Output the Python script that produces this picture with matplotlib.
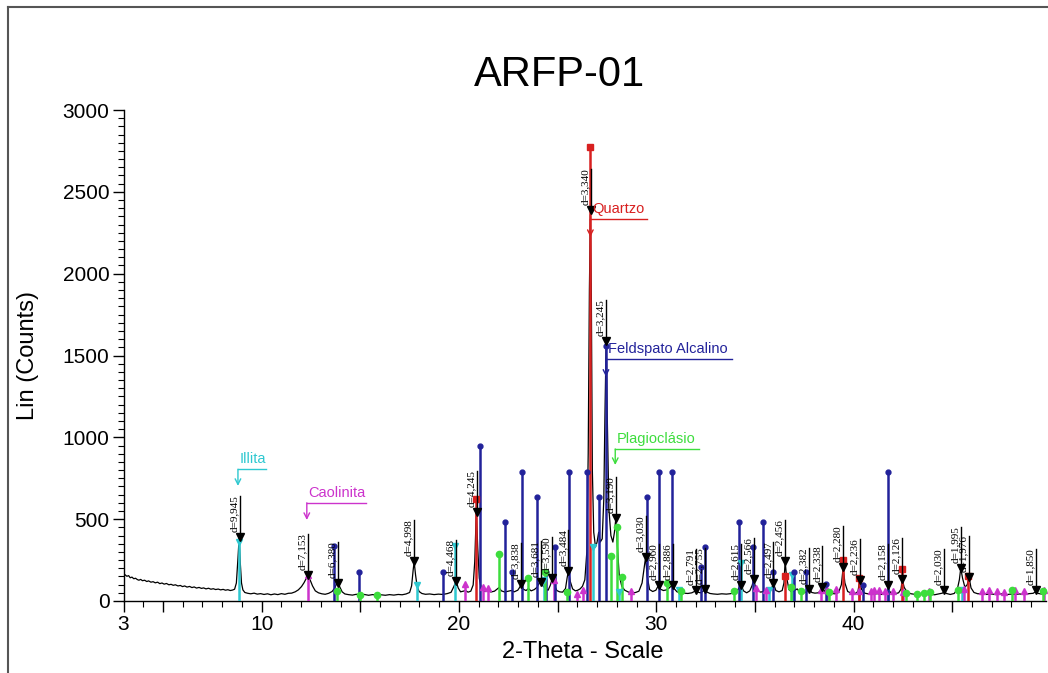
import matplotlib
matplotlib.use('Agg')
import matplotlib.pyplot as plt
from matplotlib.lines import Line2D
from matplotlib.transforms import offset_copy

plt.rcParams['font.family'] = ['Liberation Sans', 'DejaVu Sans']

# ---------------- data ----------------
title = "ARFP-01"
x_label = "2-Theta - Scale"
y_label = "Lin (Counts)"
x_ticks = [3, 5, 10, 15, 20, 25, 30, 35, 40, 45]
x_ticklabels = ["3", "", "10", "", "20", "", "30", "", "40", ""]
y_ticks = [0, 500, 1000, 1500, 2000, 2500, 3000]

pattern_2theta = [
    3.00, 3.08, 3.17, 3.26, 3.34, 3.43, 3.52, 3.61, 3.70, 3.78, 3.87, 3.96, 4.07, 4.18, 4.27, 4.39,
    4.50, 4.61, 4.73, 4.84, 4.95, 5.06, 5.18, 5.30, 5.41, 5.52, 5.63, 5.76, 5.88, 5.99, 6.10, 6.22,
    6.35, 6.47, 6.58, 6.70, 6.83, 6.95, 7.06, 7.18, 7.31, 7.43, 7.55, 7.67, 7.80, 7.92, 8.05, 8.17,
    8.29, 8.41, 8.53, 8.63, 8.72, 8.80, 8.86, 8.92, 8.98, 9.05, 9.15, 9.30, 9.45, 9.62, 9.78, 9.95,
    10.12, 10.30, 10.47, 10.65, 10.82, 11.00, 11.18, 11.35, 11.52, 11.70, 11.86, 12.02, 12.15, 12.27,
    12.36, 12.46, 12.58, 12.72, 12.88, 13.05, 13.22, 13.40, 13.57, 13.70, 13.80, 13.87, 13.96, 14.08,
    14.22, 14.40, 14.60, 14.80, 15.00, 15.20, 15.42, 15.62, 15.84, 16.05, 16.27, 16.48, 16.70, 16.92,
    17.12, 17.32, 17.50, 17.60, 17.68, 17.73, 17.80, 17.88, 17.98, 18.12, 18.30, 18.52, 18.74, 18.96,
    19.18, 19.40, 19.60, 19.74, 19.86, 19.96, 20.08, 20.22, 20.33, 20.46, 20.60, 20.72, 20.80, 20.88,
    20.95, 21.03, 21.12, 21.22, 21.35, 21.47, 21.62, 21.80, 21.95, 22.03, 22.15, 22.32, 22.50, 22.65,
    22.80, 22.98, 23.08, 23.16, 23.26, 23.40, 23.52, 23.66, 23.82, 23.96, 24.06, 24.16, 24.26, 24.38,
    24.52, 24.63, 24.73, 24.84, 24.96, 25.10, 25.25, 25.40, 25.48, 25.55, 25.64, 25.76, 25.90, 26.02,
    26.14, 26.26, 26.38, 26.48, 26.55, 26.61, 26.66, 26.71, 26.76, 26.83, 26.92, 27.00, 27.08, 27.16,
    27.26, 27.34, 27.40, 27.46, 27.52, 27.60, 27.70, 27.80, 27.88, 27.95, 28.03, 28.12, 28.25, 28.40,
    28.58, 28.76, 28.95, 29.12, 29.28, 29.38, 29.46, 29.54, 29.66, 29.82, 29.98, 30.06, 30.12, 30.22,
    30.36, 30.52, 30.66, 30.76, 30.83, 30.92, 31.05, 31.22, 31.40, 31.60, 31.80, 31.93, 32.01, 32.10,
    32.24, 32.38, 32.48, 32.58, 32.72, 32.90, 33.10, 33.32, 33.55, 33.78, 33.98, 34.14, 34.29, 34.42,
    34.58, 34.74, 34.86, 34.93, 35.02, 35.14, 35.30, 35.48, 35.64, 35.80, 35.94, 36.06, 36.22, 36.38,
    36.47, 36.53, 36.60, 36.72, 36.86, 37.00, 37.14, 37.28, 37.44, 37.62, 37.75, 37.88, 38.04, 38.20,
    38.32, 38.42, 38.54, 38.70, 38.88, 39.06, 39.24, 39.38, 39.47, 39.56, 39.70, 39.88, 40.06, 40.22,
    40.31, 40.40, 40.56, 40.76, 40.98, 41.20, 41.42, 41.62, 41.76, 41.90, 42.08, 42.28, 42.40, 42.47,
    42.56, 42.72, 42.92, 43.14, 43.38, 43.62, 43.86, 44.10, 44.34, 44.50, 44.58, 44.70, 44.90, 45.10,
    45.26, 45.36, 45.43, 45.52, 45.64, 45.76, 45.85, 45.95, 46.10, 46.30, 46.52, 46.74, 46.98, 47.22,
    47.46, 47.70, 47.94, 48.18, 48.42, 48.66, 48.90, 49.10, 49.23, 49.36, 49.55, 49.75,
]
pattern_counts = [
    168, 160, 151, 155, 142, 146, 136, 139, 131, 127, 132, 124, 127, 119, 123, 115,
    118, 111, 115, 106, 110, 103, 107, 99, 102, 96, 99, 92, 95, 88, 92, 85,
    89, 82, 86, 79, 83, 77, 80, 74, 78, 72, 75, 70, 73, 68, 71, 66,
    69, 64, 67, 72, 110, 260, 385, 230, 110, 68, 52, 47, 44, 48, 42, 45,
    40, 44, 38, 43, 39, 45, 41, 47, 48, 56, 68, 88, 112, 140,
    150, 128, 92, 62, 50, 44, 41, 47, 58, 78, 105, 116, 86, 56,
    43, 39, 36, 41, 37, 40, 35, 39, 36, 38, 35, 39, 36, 40,
    38, 43, 52, 92, 190, 240, 160, 90, 58, 46, 41, 43, 39, 42,
    40, 45, 53, 88, 122, 80, 56, 60, 64, 54, 60, 98, 240, 548,
    330, 140, 80, 64, 58, 62, 55, 60, 74, 82, 62, 55, 60, 64,
    56, 66, 84, 104, 72, 64, 76, 62, 70, 84, 108, 124, 92, 74,
    66, 96, 138, 98, 64, 56, 54, 76, 140, 186, 120, 74, 62, 66,
    74, 90, 130, 300, 900, 1900, 2360, 1850, 800, 420, 330, 360, 420, 360,
    380, 620, 1150, 1590, 1100, 560, 400, 360, 420, 505, 330, 160, 90, 66,
    55, 50, 52, 60, 110, 200, 268, 150, 70, 58, 66, 84, 98, 72,
    64, 68, 80, 92, 98, 74, 56, 52, 48, 46, 50, 58, 66, 54,
    50, 60, 74, 54, 46, 43, 41, 44, 42, 45, 52, 70, 100, 62,
    50, 62, 96, 132, 90, 62, 54, 62, 56, 66, 106, 64, 56, 64,
    110, 244, 150, 70, 55, 64, 74, 52, 50, 56, 74, 52, 48, 50,
    62, 82, 58, 48, 46, 44, 52, 100, 204, 110, 58, 48, 44, 58,
    126, 72, 48, 43, 41, 45, 40, 48, 70, 48, 44, 50, 72, 132,
    84, 52, 44, 40, 43, 39, 42, 38, 44, 48, 56, 46, 40, 46,
    74, 130, 200, 140, 84, 100, 146, 80, 52, 44, 46, 40, 43, 39,
    44, 38, 42, 40, 43, 39, 45, 47, 58, 46, 42, 45,
]

# peak labels (d-spacings) with the peak positions and heights
peak_2theta = [8.886, 12.365, 13.87, 17.73, 19.86, 20.91, 23.16, 24.16, 24.73, 25.55,
               26.67, 27.46, 27.95, 29.46, 30.12, 30.83, 32.01, 32.48, 34.29, 34.93,
               35.94, 36.53, 37.75, 38.42, 39.47, 40.31, 41.76, 42.47, 44.58, 45.43,
               45.85, 49.23]
peak_counts = [390, 159, 112, 245, 124, 546, 104, 118, 140, 185,
               2390, 1590, 507, 271, 98, 98, 67, 75, 100, 135,
               108, 246, 72, 85, 206, 128, 98, 134, 70, 201,
               147, 70]
peak_labels = ["d=9,945", "d=7,153", "d=6,380", "d=4,998", "d=4,468", "d=4,245", "d=3,838",
               "d=3,681", "d=3,590", "d=3,484", "d=3,340", "d=3,245", "d=3,190", "d=3,030",
               "d=2,960", "d=2,886", "d=2,791", "d=2,755", "d=2,615", "d=2,566", "d=2,497",
               "d=2,456", "d=2,382", "d=2,338", "d=2,280", "d=2,236", "d=2,158", "d=2,126",
               "d=2,030", "d=1,995", "d=1,976", "d=1,850"]

# reference phase sticks
illita_2theta = [8.85, 17.85, 19.82, 24.30, 26.77, 28.10, 31.16, 34.29, 35.72, 36.90, 41.76, 45.50]
illita_counts = [362, 98, 336, 130, 332, 55, 67, 230, 67, 160, 98, 70]

caolinita_2theta = [12.36, 20.33, 21.20, 21.45, 24.84, 26.00, 26.30, 28.72, 35.05, 35.56,
                    38.34, 38.67, 39.10, 39.90, 40.27, 40.90, 41.03, 41.29, 41.60, 42.00,
                    42.50, 43.82, 45.60, 46.49, 46.87, 47.27, 47.62, 48.18, 48.64, 49.65]
caolinita_counts = [159, 104, 87, 80, 128, 45, 65, 60, 80, 67,
                    67, 67, 75, 60, 60, 60, 67, 67, 60, 60,
                    55, 60, 75, 60, 70, 60, 55, 65, 60, 70]

quartzo_2theta = [20.86, 26.64, 36.54, 39.47, 40.29, 42.45, 45.79]
quartzo_counts = [621, 2772, 150, 250, 140, 195, 150]

feldspato_2theta = [13.66, 14.93, 19.18, 21.09, 22.34, 22.69, 23.20, 23.96, 24.42, 24.89,
                    25.60, 26.47, 27.08, 27.46, 29.51, 30.12, 30.79, 32.26, 32.48, 34.20,
                    34.88, 35.43, 35.94, 36.99, 37.58, 38.59, 40.48, 41.76]
feldspato_counts = [336, 180, 180, 950, 485, 180, 790, 637, 180, 332,
                    790, 790, 637, 1560, 637, 790, 790, 210, 332, 485,
                    332, 485, 180, 180, 180, 104, 98, 790]

plagioclasio_2theta = [13.81, 14.96, 15.84, 22.02, 23.52, 24.38, 25.48, 27.71, 27.99, 28.26,
                       30.52, 31.25, 33.95, 36.82, 37.33, 38.76, 42.64, 43.20, 43.55, 43.85,
                       45.30, 48.03, 49.60]
plagioclasio_counts = [60, 37, 37, 290, 139, 180, 57, 274, 454, 148,
                       108, 60, 60, 87, 60, 57, 50, 45, 50, 55,
                       65, 70, 60]

phase_names = ["Illita", "Caolinita", "Quartzo", "Feldspato Alcalino", "Plagioclásio"]

# ---------------- styles ----------------
c_illita = '#2ec8d0'
c_caol = '#cc33cc'
c_quartz = '#d82020'
c_feld = '#22229a'
c_plag = '#3ddd3d'

fig = plt.figure(figsize=(10.48, 6.73), dpi=100)
ax = fig.add_axes([123.5 / 1048, 72 / 673, (1046 - 123.5) / 1048, 491 / 673])
ax.set_xlim(3, 49.75)
ax.set_ylim(0, 3000)

ax.plot(pattern_2theta, pattern_counts, color='black', lw=0.9, zorder=2)

phases = [
    (illita_2theta, illita_counts, c_illita, 'v', 4.5),
    (caolinita_2theta, caolinita_counts, c_caol, '^', 4.5),
    (feldspato_2theta, feldspato_counts, c_feld, 'o', 3.5),
    (plagioclasio_2theta, plagioclasio_counts, c_plag, 'o', 4.5),
    (quartzo_2theta, quartzo_counts, c_quartz, 's', 4.5),
]
for xs, hs, col, mk, ms in phases:
    ax.vlines(xs, 0, hs, colors=col, lw=1.8, zorder=3)
    ax.plot(xs, hs, ls='none', marker=mk, color=col, ms=ms, zorder=4, clip_on=False)

# d-spacing labels
txt_tr = offset_copy(ax.transData, fig=fig, x=-1, y=5, units='dots')
for x, y, s in zip(peak_2theta, peak_counts, peak_labels):
    ax.plot([x, x], [y, y + 250], color='black', lw=1.0, zorder=5)
    ax.plot([x], [y], ls='none', marker='v', color='black', ms=6, zorder=6)
    ax.text(x, y, s, rotation=90, ha='right', va='bottom', transform=txt_tr,
            fontsize=8, family=['Liberation Serif', 'DejaVu Serif'], zorder=6)

# phase annotations (label, bracket line and arrow)
annots = [
    (phase_names[0], c_illita, 8.80, 10.24, 805, 703),
    (phase_names[1], c_caol, 12.29, 15.30, 600, 495),
    (phase_names[2], c_quartz, 26.66, 29.54, 2332, 2224),
    (phase_names[3], c_feld, 27.45, 33.85, 1477, 1370),
    (phase_names[4], c_plag, 27.92, 32.18, 929, 831),
]
for name, col, x0, x1, yl, ytip in annots:
    ax.plot([x0, x1], [yl, yl], color=col, lw=1.0, zorder=5)
    ax.annotate('', xy=(x0, ytip), xytext=(x0, yl),
                arrowprops=dict(arrowstyle='->', color=col, lw=1.0, shrinkA=0, shrinkB=0),
                zorder=5)
    ax.text(x0 + 0.08, yl + 20, name, color=col, fontsize=10.5, ha='left', va='bottom', zorder=6)

# axes styling
for side in ['top', 'right']:
    ax.spines[side].set_visible(False)
for side in ['left', 'bottom']:
    ax.spines[side].set_linewidth(1.0)
ax.set_xticks(x_ticks)
ax.set_xticklabels(x_ticklabels)
ax.set_xticks(range(4, 50), minor=True)
ax.set_yticks(y_ticks)
ax.set_yticks(range(0, 3001, 50), minor=True)
ax.tick_params(which='major', direction='out', length=8, width=1, labelsize=15, pad=2)
ax.tick_params(which='minor', direction='out', length=4, width=0.8)

fig.text(0.556, 0.031, x_label, ha='center', va='center', fontsize=17)
fig.text(0.027, 0.472, y_label, ha='center', va='center', rotation=90, fontsize=17)
fig.text(0.534, 0.889, title, ha='center', va='center', fontsize=30)

# screenshot frame
fig.add_artist(Line2D([8 / 1048, 8 / 1048], [0, 1 - 7 / 673], transform=fig.transFigure,
                      color='#555555', lw=1.5))
fig.add_artist(Line2D([8 / 1048, 1], [1 - 7 / 673, 1 - 7 / 673], transform=fig.transFigure,
                      color='#555555', lw=1.5))

fig.savefig('out.png', dpi=100)
